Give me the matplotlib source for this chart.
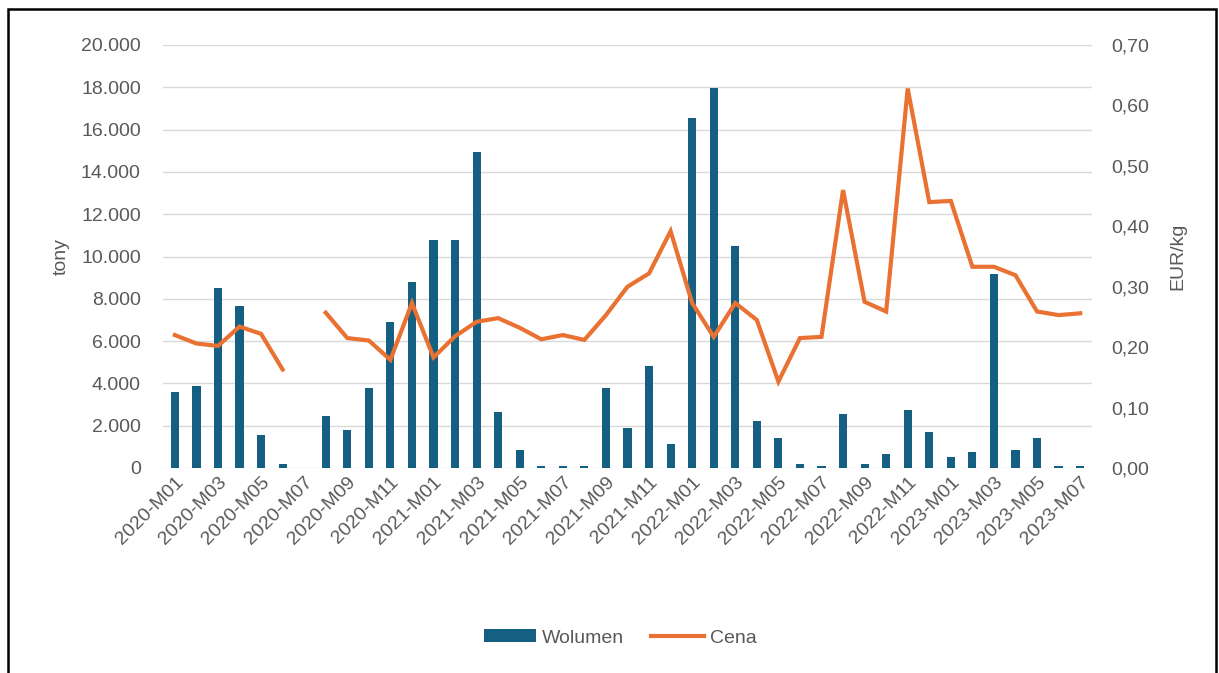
import numpy as np
import matplotlib.pyplot as plt
from matplotlib.patches import Rectangle, Patch
from matplotlib.lines import Line2D
from matplotlib.ticker import FuncFormatter, MultipleLocator

# miesiące 2020-M01 .. 2023-M07
months = [f"{y}-M{m:02d}" for y in range(2020, 2024) for m in range(1, 13)][:43]

# wolumen w tonach
volume = [3600, 3900, 8500, 7650, 1550, 200, 0, 2450, 1800, 3800, 6900, 8800,
          10800, 10800, 14950, 2650, 850, 100, 100, 100, 3800, 1900, 4800, 1150,
          16550, 17950, 10500, 2200, 1400, 200, 100, 2550, 200, 650, 2750, 1700,
          500, 750, 9150, 850, 1400, 100, 100]

# cena w EUR/kg (brak danych dla 2020-M07)
price = [0.220, 0.206, 0.202, 0.234, 0.222, 0.163, np.nan, 0.257, 0.215, 0.211, 0.179, 0.273,
         0.183, 0.218, 0.242, 0.248, 0.232, 0.213, 0.220, 0.212, 0.253, 0.300, 0.322, 0.392,
         0.273, 0.217, 0.273, 0.245, 0.143, 0.215, 0.217, 0.460, 0.275, 0.259, 0.628, 0.440,
         0.442, 0.333, 0.333, 0.319, 0.259, 0.253, 0.256]

BLUE = "#156082"
ORANGE = "#E97132"
TEXT = "#595959"
GRID = "#D9D9D9"
FS = 14

plt.rcParams["font.family"] = ["Liberation Sans", "DejaVu Sans"]
plt.rcParams["font.size"] = FS

fig = plt.figure(figsize=(12.19, 6.73), dpi=100)
ax = fig.add_axes([163 / 1219, 1 - 468 / 673, (1092 - 163) / 1219, (468 - 45) / 673])
ax2 = ax.twinx()

x = np.arange(len(months))
ax.bar(x, volume, width=0.38, color=BLUE, zorder=2)
ax2.plot(x, price, color=ORANGE, lw=3, solid_joinstyle="miter", zorder=3)

ax.set_xlim(-0.55, 42.55)
ax.set_ylim(0, 20000)
ax2.set_ylim(0, 0.70)
ax.yaxis.set_major_locator(MultipleLocator(2000))
ax2.yaxis.set_major_locator(MultipleLocator(0.1))
ax.yaxis.set_major_formatter(FuncFormatter(lambda v, p: f"{int(v):,}".replace(",", ".")))
ax2.yaxis.set_major_formatter(FuncFormatter(lambda v, p: f"{v:.2f}".replace(".", ",")))

ax.set_xticks(x[::2])
ax.set_xticklabels(months[::2], rotation=45, ha="right", rotation_mode="anchor")

ax.grid(axis="y", color=GRID, lw=1, zorder=0)
ax.set_axisbelow(True)
for a in (ax, ax2):
    for s in a.spines.values():
        s.set_visible(False)
    a.tick_params(length=0, colors=TEXT, labelsize=FS)
ax.tick_params(axis="y", pad=16)
ax.tick_params(axis="x", pad=4)
ax2.tick_params(axis="y", pad=14)

ax.set_ylabel("tony", color=TEXT, fontsize=FS, labelpad=8)
ax2.set_ylabel("EUR/kg", color=TEXT, fontsize=FS, labelpad=14)

handles = [Patch(facecolor=BLUE), Line2D([], [], color=ORANGE, lw=3)]
fig.legend(handles, ["Wolumen", "Cena"], loc="center", ncol=2, frameon=False,
           bbox_to_anchor=(620 / 1219, 1 - 638 / 673), handlelength=2.7,
           handleheight=0.65, columnspacing=1.4, handletextpad=0.3,
           labelcolor=TEXT, fontsize=FS)

# ramka wokół wykresu
fig.patches.append(Rectangle((8 / 1219, -0.05), (1216 - 8) / 1219, 1.05 - 9 / 673,
                             transform=fig.transFigure, fill=False, ec="black", lw=1.8))

fig.savefig("out.png", dpi=100)
